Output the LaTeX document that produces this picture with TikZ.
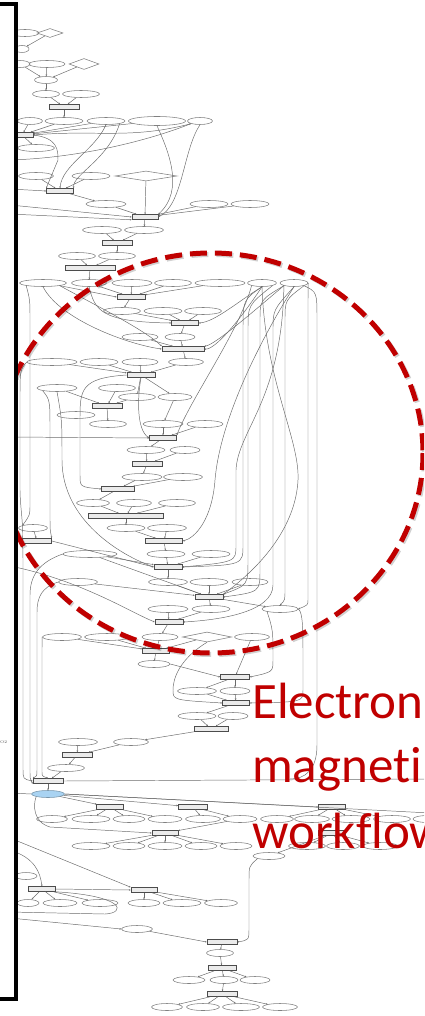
\documentclass[tikz,border=0pt]{standalone}
\usepackage{fontspec}
\newfontfamily\redfont{Carlito}[Ligatures=NoCommon]
\usetikzlibrary{shapes.geometric,arrows.meta}
\definecolor{darkred}{HTML}{C00000}
\definecolor{selblue}{HTML}{A9D3F2}
\tikzset{
 el/.style={ellipse,draw=black!50,line width=0.55pt,inner sep=0pt,minimum height=7pt},
 bx/.style={rectangle,draw=black!70,line width=0.6pt,inner sep=0pt,minimum height=5pt,fill=black!8},
 dm/.style={diamond,draw=black!50,line width=0.55pt,inner sep=0pt},
 ed/.style={draw=black!58,line width=0.48pt,-{Stealth[length=1.8pt,width=1.6pt]}},
 ln/.style={draw=black!58,line width=0.48pt},
 redtext/.style={text=darkred,font=\redfont\fontsize{51}{60}\selectfont,anchor=base west,inner sep=0pt},
}
\newcommand\El[4]{\node[el,minimum width=#4pt] (#1) at (#2,#3) {};}
\newcommand\Bx[4]{\node[bx,minimum width=#4pt] (#1) at (#2,#3) {};}
\newcommand\Dm[5]{\node[dm,minimum width=#4pt,minimum height=#5pt] (#1) at (#2,#3) {};}
\begin{document}
\begin{tikzpicture}[x=1pt,y=-1pt]
\useasboundingbox (0,0) rectangle (424,1016);
\begin{scope}
\clip (18,0) rectangle (424,1016);
% ---------- top section ----------
\El{a1}{25}{33}{28}
\Dm{a2}{50}{33}{26}{9}
\El{a3}{22}{49}{14}
\El{a4}{20}{64}{20}
\El{a5}{47}{64}{36}
\Dm{a6}{84}{64}{30}{11}
\El{a7}{46}{80}{23}
\El{a8}{46}{94}{27}
\El{a9}{81}{94}{37}
\Bx{b1}{64}{107}{30}
\El{r1a}{30}{121}{25}
\El{r1b}{64}{121}{38}
\El{r1c}{106}{121}{38}
\node[el,minimum width=57pt,minimum height=9pt] (r1d) at (157,121) {};
\El{r1e}{200}{121}{25}
\Bx{b2}{22}{135}{22}
\El{c1}{36}{148}{37}
\El{c2}{36}{176}{35}
\El{c3}{91}{176}{38}
\Dm{c4}{146}{176}{62}{10}
\Bx{b3}{60}{191}{27}
\El{c5}{106}{204}{40}
\El{c6}{209}{204}{38}
\El{c7}{250}{204}{38}
\Bx{b4}{145}{217}{26}
\El{c8}{102}{230}{39}
\El{c9}{144}{230}{39}
\Bx{b5}{117}{243}{30}
% ---------- second section ----------
\El{d1}{77}{256}{37}
\El{d2}{117}{256}{37}
\Bx{b6}{90}{268}{50}
\El{r2a}{43}{283}{47}
\El{r2b}{89}{283}{35}
\El{r2c}{132}{283}{40}
\El{r2d}{173}{283}{37}
\El{r2e}{220}{283}{50}
\El{r2f}{262}{283}{29}
\El{r2g}{294}{283}{28}
\Bx{b7}{131}{297}{28}
\El{e1}{122}{311}{37}
\El{e2}{163}{311}{38}
\El{e3}{203}{311}{37}
\Bx{b8}{185}{323}{27}
\El{e4}{140}{337}{36}
\El{e5}{180}{337}{30}
\Bx{b9}{183}{349}{42}
\El{e6}{52}{362}{50}
\El{e7}{99}{362}{38}
\El{e8}{140}{362}{36}
\El{e9}{186}{362}{35}
\Bx{b10}{141}{375}{28}
\El{e10}{57}{388}{40}
\El{e11}{117}{388}{37}
\El{e12}{137}{397}{37}
\El{e13}{175}{397}{34}
\Bx{b11}{107}{406}{30}
\El{e14}{76}{415}{38}
\El{e15}{108}{424}{37}
\El{e16}{163}{424}{40}
\El{e17}{205}{424}{36}
\Bx{b12}{163}{438}{27}
\El{e18}{146}{450}{38}
\El{e19}{185}{450}{30}
\Bx{b13}{147}{464}{30}
\El{e20}{142}{477}{40}
\El{e21}{183}{477}{39}
\Bx{b14}{118}{489}{33}
\El{f1}{93}{503}{33}
\El{f2}{134}{503}{35}
\El{f3}{177}{503}{37}
\Bx{b15}{126}{516}{75}
\El{f4}{33}{528}{29}
\El{f5}{126}{528}{38}
\El{f6}{167}{528}{39}
\Bx{b16}{37}{541}{29}
\Bx{b17}{164}{541}{37}
\El{f7}{90}{554}{54}
\El{f8}{166}{554}{38}
\El{f9}{211}{554}{38}
\Bx{b18}{168}{567}{28}
\El{f10}{78}{582}{39}
\El{f11}{168}{582}{39}
\El{f12}{209}{582}{38}
\El{f13}{250}{582}{36}
\Bx{b19}{209}{597}{28}
\El{f14}{168}{609}{40}
\El{f15}{211}{609}{38}
\El{f16}{280}{609}{36}
\Bx{b20}{169}{622}{28}
\El{g1}{62}{637}{39}
\El{g2}{107}{637}{45}
\El{g3}{160}{637}{36}
\Dm{g4}{207}{637}{49}{10}
\El{g5}{252}{637}{35}
\Bx{b21}{156}{651}{27}
\El{g6}{154}{664}{32}
\Bx{b22}{235}{677}{29}
\El{g7}{197}{691}{39}
\El{g8}{235}{691}{30}
\Bx{b23}{236}{703}{27}
\El{g9}{197}{716}{38}
\El{g10}{233}{716}{30}
\Bx{b24}{211}{729}{34}
\El{g11}{78}{742}{39}
\El{g12}{131}{742}{35}
\Bx{b25}{77}{755}{30}
\El{g13}{66}{768}{37}
\Bx{b26}{48}{781}{30}
\node[el,minimum width=33pt,fill=selblue,draw=selblue!70!black] (blue) at (48,794) {};
% ---------- bottom section ----------
\Bx{h1}{110}{807}{27}
\Bx{h2}{193}{807}{29}
\Bx{h3}{332}{807}{27}
\El{i1}{52}{819}{31}
\El{i2}{91}{819}{38}
\El{i3}{129}{819}{32}
\El{i4}{165}{819}{34}
\El{i5}{203}{819}{35}
\El{i6}{240}{819}{34}
\El{i7}{277}{819}{33}
\El{i8}{312}{819}{35}
\El{i9}{351}{819}{38}
\El{i10}{392}{819}{37}
\El{i11}{428}{819}{30}
\Bx{bb}{165}{833}{26}
\Bx{bc}{332}{833}{27}
\El{j1}{91}{846}{38}
\El{j2}{129}{846}{32}
\El{j3}{165}{846}{34}
\El{j4}{201}{846}{32}
\El{j5}{236}{846}{32}
\El{j6}{307}{846}{37}
\El{j7}{343}{846}{33}
\El{j8}{380}{846}{35}
\El{k1}{269}{856}{32}
\El{l0}{26}{876}{22}
\Bx{lb}{42}{889}{27}
\El{lc1}{28}{903}{22}
\El{lc2}{60}{903}{34}
\El{lc3}{100}{903}{36}
\Bx{mb}{144}{890}{26}
\El{m1}{144}{903}{32}
\El{m2}{182}{903}{38}
\El{m3}{221}{903}{33}
\El{n1}{137}{929}{31}
\Bx{ob}{222}{942}{30}
\El{p1}{220}{953}{27}
\Bx{pb}{222}{968}{28}
\El{q1}{189}{980}{32}
\El{q2}{224}{980}{28}
\El{q3}{255}{980}{30}
\Bx{rb}{222}{994}{30}
\El{s1}{167}{1007}{31}
\El{s2}{203}{1007}{33}
\El{s3}{241}{1007}{37}
\El{s4}{280}{1007}{35}
% ---------- edges: top ----------
\draw[ed] (a2) -- (a3);
\draw[ln] (a3) -- (10,52);
\draw[ed] (a4) -- (a7);
\draw[ed] (a5) -- (a7);
\draw[ed] (a6) -- (a7);
\draw[ed] (a7) -- (a8);
\draw[ed] (a8) -- (b1);
\draw[ed] (a9) -- (b1);
\draw[ed] (b1) -- (r1b);
\draw[ed] (r1a) -- (b2);
\draw[ed] (r1b) -- (b2);
\draw[ed] (r1c) -- (b2);
\draw[ed] (r1d) -- (b2);
\draw[ed] (r1e.south west) to[out=195,in=5] (b2.east);
\draw[ed] (b2) -- (c1);
\draw[ed] (10,160) .. controls (80,158) and (150,140) .. (r1e.south west);
\draw[ed] (r1c.south) .. controls (95,150) and (62,165) .. (b3.north);
\draw[ed] (r1c.south east) .. controls (108,160) and (72,175) .. (b3.north east);
\draw[ed] (b2.east) .. controls (58,138) and (58,150) .. (58,160) -- (b3.north west);
\draw[ed] (c2) -- (b3);
\draw[ed] (c3) -- (b3);
\draw[ed] (10,189) -- (b3.west);
\draw[ed] (b3) -- (c5);
\draw[ed] (c5) -- (b4);
\draw[ed] (c4) -- (b4);
\draw[ed] (r1d.south) .. controls (168,150) and (185,190) .. (b4.north east);
\draw[ed] (r1e.south) .. controls (183,150) and (183,205) .. (b4.east);
\draw[ed] (c6) -- (b4);
\draw[ed] (c7) -- (b4);
\draw[ed] (10,205) -- (b4.west);
\draw[ed] (10,214) -- (b4.south west);
\draw[ed] (b4) -- (c9);
\draw[ed] (c8) -- (b5);
\draw[ed] (c9) -- (b5);
\draw[ed] (b5) -- (d2);
\draw[ed] (d1) -- (b6);
\draw[ed] (d2) -- (b6);
% ---------- edges: second section ----------
\draw[ed] (b6) -- (r2b);
\draw[ed] (r2a.south east) -- (b7.west);
\draw[ed] (r2b) -- (b7);
\draw[ed] (r2c) -- (b7);
\draw[ed] (r2d) -- (b7);
\draw[ed] (r2e) -- (b7);
\draw[ed] (b7) -- (e1);
\draw[ed] (e1) -- (b8);
\draw[ed] (e2) -- (b8);
\draw[ed] (e3) -- (b8);
\draw[ed] (r2b.south) .. controls (95,310) and (100,322) .. (b8.west);
\draw[ed] (b8) -- (e5);
\draw[ed] (e4) -- (b9);
\draw[ed] (e5) -- (b9);
\draw[ed] (r2a.south) .. controls (60,320) and (130,345) .. (b9.west);
\draw[ed] (r2a.south east) .. controls (95,305) and (145,330) .. (b9.north west);
\draw[ed] (r2f.south) .. controls (240,300) and (215,322) .. (b8.east);
\draw[ed] (r2f.south) .. controls (240,320) and (215,350) .. (b9.east);
\draw[ed] (r2g.south west) .. controls (255,310) and (215,345) .. (b9.north east);
\draw[ed] (b9) -- (e9);
\draw[ed] (e6) -- (b10);
\draw[ed] (e7) -- (b10);
\draw[ed] (e8) -- (b10);
\draw[ed] (e9) -- (b10);
\draw[ed] (b10) -- (e12);
\draw[ed] (b10) -- (e13);
\draw[ed] (b10.west) .. controls (80,378) and (80,390) .. (80,420) -- (80,475) .. controls (80,487) .. (b14.west);
\draw[ed] (b10.south) .. controls (137,400) and (137,430) .. (b12.west);
\draw[ed] (e10) -- (b11);
\draw[ed] (e11) -- (b11);
\draw[ed] (e12) -- (b11);
\draw[ed] (b11) -- (e15);
\draw[ed] (e13) -- (e16);
\draw[ed] (e16) -- (b12);
\draw[ed] (e17) -- (b12);
\draw[ed] (10,437) -- (b12.west);
\draw[ed] (r2f.south west) .. controls (240,330) and (190,400) .. (b12.north east);
\draw[ed] (b12) -- (e18);
\draw[ed] (e18) -- (b13);
\draw[ed] (e19) -- (b13);
\draw[ed] (b13) -- (e20);
\draw[ed] (e20) -- (b14);
\draw[ed] (e21) -- (b14);
\draw[ed] (b14) -- (f1);
\draw[ed] (f1) -- (b15);
\draw[ed] (f2) -- (b15);
\draw[ed] (f3) -- (b15);
\draw[ed] (b15) -- (f5);
\draw[ed] (f5) -- (b17);
\draw[ed] (f6) -- (b17);
\draw[ed] (r2g.south) .. controls (260,340) and (220,420) .. (215,480) .. controls (212,520) and (195,538) .. (b17.east);
\draw[ed] (b17) -- (f8);
\draw[ed] (f8) -- (b18);
\draw[ed] (f9) -- (b18);
\draw[ed] (f4) -- (b16);
\draw[ed] (b16.east) -- (b18.west);
\draw[ed] (f7) -- (b18);
\draw[ed] (f7) -- (b19);
\draw[ed] (r2a.south west) .. controls (30,300) .. (30,320) -- (30,505) .. controls (30,515) .. (f4.north west);
\draw[ed] (e10.south west) .. controls (50,400) .. (50,430) -- (50,515) .. controls (50,530) .. (b16.north east);
\draw[ed] (e10.south) .. controls (62,420) .. (62,460) .. controls (62,520) and (120,555) .. (b18.west);
\draw[ed] (e6.west) .. controls (20,370) .. (20,400) -- (20,490) .. controls (20,505) and (24,530) .. (b16.west);
\draw[ed] (b18) -- (f11);
\draw[ed] (f10) -- (b19);
\draw[ed] (f11) -- (b19);
\draw[ed] (f12) -- (b19);
\draw[ed] (f13) -- (b19);
\draw[ed] (r2f.south) .. controls (243,300) .. (243,330) -- (243,545) .. controls (243,565) .. (b18.east);
\draw[ed] (r2f.south east) .. controls (248,305) .. (248,330) -- (248,560) .. controls (248,585) .. (b19.north east);
\draw[ed] (r2g.south west) .. controls (260,300) .. (260,320) -- (260,570) .. controls (260,592) .. (b19.east);
\draw[ed] (r2g.south) .. controls (273,310) .. (273,330) -- (273,585) .. controls (273,612) and (220,620) .. (b20.east);
\draw[ed] (r2f.south) .. controls (265,380) and (300,440) .. (298,480) .. controls (296,520) and (270,560) .. (b19.north east);
\draw[ed] (r2g.south west) .. controls (282,400) and (238,430) .. (236,470) -- (236,545) .. controls (236,562) .. (b18.east);
\draw[ed] (r2g.south east) .. controls (285,300) .. (285,320) -- (285,590) .. controls (285,600) .. (f16.north);
\draw[ed] (r2g.east) .. controls (308,290) .. (308,310) -- (308,600) .. controls (308,605) .. (f16.east);
\draw[ed] (b19) -- (f15);
\draw[ed] (b19) -- (f16);
\draw[ed] (f14) -- (b20);
\draw[ed] (f15) -- (b20);
\draw[ed] (10,566) .. controls (80,580) and (130,612) .. (b20.west);
\draw[ed] (b20) -- (g3);
\draw[ed] (g1) -- (b21);
\draw[ed] (g2) -- (b21);
\draw[ed] (g3) -- (b21);
\draw[ed] (g4) -- (b21);
\draw[ed] (b21) -- (g6);
\draw[ed] (g6.east) -- (b22.west);
\draw[ed] (g5) -- (b22);
\draw[ed] (g4.south) .. controls (178,660) and (173,680) .. (173,690) .. controls (173,700) .. (b23.west);
\draw[ed] (f16.south west) .. controls (273,630) .. (273,660) .. controls (273,672) .. (b22.east);
\draw[ed] (f16.east) .. controls (303,612) and (303,630) .. (303,660) -- (303,690) .. controls (303,702) .. (b23.east);
\draw[ed] (b22) -- (g7);
\draw[ed] (b22) -- (g8);
\draw[ed] (g7) -- (b23);
\draw[ed] (g8) -- (b23);
\draw[ed] (b23) -- (g9);
\draw[ed] (g9) -- (b24);
\draw[ed] (g10) -- (b24);
\draw[ed] (b24) -- (g12);
\draw[ed] (g11) -- (b25);
\draw[ed] (g12) -- (b25);
\draw[ed] (b25) -- (g13);
\draw[ed] (g13) -- (b26);
\draw[ed] (b26) -- (blue);
\draw[ln] (b26.east) -- (430,779);
\draw[ln] (r2g.south east) .. controls (317,292) .. (317,320) -- (317,745) .. controls (317,770) and (305,779) .. (290,779);
\draw[ed] (b16.south west) .. controls (23,548) .. (23,570) -- (23,768) .. controls (23,779) .. (b26.west);
\draw[ed] (f7.west) .. controls (40,562) and (30,575) .. (30,595) -- (30,770) .. controls (30,779) .. (b26.south west);
\draw[ed] (f10.west) .. controls (42,587) and (37,597) .. (37,612) -- (37,770) .. controls (37,776) .. (b26.north west);
\draw[ed] (g1.west) .. controls (42,642) .. (42,660) -- (42,772) .. controls (42,776) .. (b26.north);
% ---------- edges: bottom ----------
\draw[ln] (blue.west) -- (10,793);
\draw[ed] (blue) -- (h1);
\draw[ed] (blue) -- (h2);
\draw[ed] (blue.east) -- (h3.west);
\draw[ln] (blue.east) -- (430,813);
\draw[ed] (blue.south west) .. controls (33,805) and (33,822) .. (50,827) -- (bb.west);
\draw[ed] (h1) -- (i1);
\draw[ed] (h1) -- (i2);
\draw[ed] (h1) -- (i3);
\draw[ed] (h1) -- (i4);
\draw[ed] (h2) -- (i5);
\draw[ed] (h2) -- (i6);
\draw[ed] (h3) -- (i7);
\draw[ed] (h3) -- (i8);
\draw[ed] (h3) -- (i9);
\draw[ed] (h3) -- (i10);
\draw[ed] (bb) -- (j1);
\draw[ed] (bb) -- (j2);
\draw[ed] (bb) -- (j3);
\draw[ed] (bb) -- (j4);
\draw[ed] (bb) -- (j5);
\draw[ed] (i6) -- (bb);
\draw[ed] (bc) -- (j6);
\draw[ed] (bc) -- (j7);
\draw[ed] (bc) -- (j8);
\draw[ed] (bc) -- (k1);
\draw[ed] (10,850) .. controls (35,858) and (40,872) .. (lb.north);
\draw[ed] (10,838) -- (mb.north west);
\draw[ed] (lb) -- (lc1);
\draw[ed] (lb) -- (lc2);
\draw[ed] (lb) -- (lc3);
\draw[ed] (lb.east) -- (mb.west);
\draw[ln] (10,912) -- (105,914) .. controls (126,913) and (126,896) .. (lb.south east);
\draw[ed] (mb) -- (m1);
\draw[ed] (mb) -- (m2);
\draw[ed] (mb) -- (m3);
\draw[ed] (10,918) -- (n1.west);
\draw[ed] (n1) -- (ob.west);
\draw[ed] (k1.south west) .. controls (249,866) .. (249,880) -- (249,928) .. controls (249,940) .. (ob.east);
\draw[ed] (ob) -- (p1);
\draw[ed] (p1) -- (pb);
\draw[ed] (pb) -- (q1);
\draw[ed] (pb) -- (q2);
\draw[ed] (pb) -- (q3);
\draw[ed] (q2) -- (rb);
\draw[ed] (rb) -- (s1);
\draw[ed] (rb) -- (s2);
\draw[ed] (rb) -- (s3);
\draw[ed] (rb) -- (s4);
\end{scope}
% ---------- dashed highlight ----------
\begin{scope}
\clip (17,0) rectangle (424,1016);
\draw[black,opacity=0.18,line width=5pt,dash pattern=on 17pt off 8pt] (212.5,454.5) ellipse [x radius=212, y radius=200];
\draw[darkred,line width=5pt,dash pattern=on 17pt off 8pt] (211,453) ellipse [x radius=212, y radius=200];
\end{scope}
% ---------- frame ----------
\draw[black,line width=4pt,line join=miter] (0,4) -- (16,4) -- (16,999) -- (0,999);
\node[anchor=west,inner sep=0pt,font=\fontsize{4}{5}\selectfont,text=black!70] (tag) at (0,742) {O2};
% ---------- caption ----------
\begin{scope}
\clip (0,0) rectangle (424,1016);
\node[redtext] (t1) at (252,718) {Electron};
\node[redtext] (t2) at (252,782) {magneti};
\node[redtext] (t3) at (252,848) {workflow};
\end{scope}
\end{tikzpicture}
\end{document}
